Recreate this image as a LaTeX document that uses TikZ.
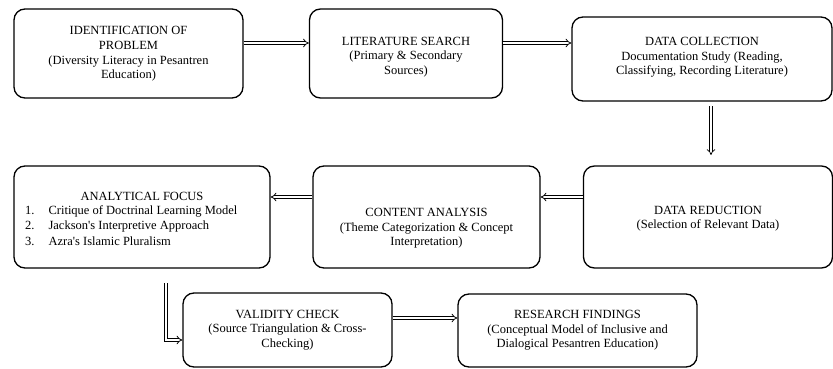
\documentclass[tikz,border=0pt]{standalone}
\usepackage{fontspec}
\setmainfont{Liberation Serif}[Ligatures=TeXOff]
\usetikzlibrary{arrows.meta,calc}
\begin{document}
\begin{tikzpicture}[x=1pt,y=-1pt,
  box/.style={draw,line width=1.3pt,rounded corners=11pt,inner sep=0pt},
  txt/.style={align=center,font=\fontsize{12.5}{14.6}\selectfont,inner sep=0pt},
  arr/.style={double,double distance=2.2pt,line width=0.75pt,-{Implies}}]
\useasboundingbox (0,0) rectangle (833,369);
% row 1
\node[box,minimum width=229pt,minimum height=89pt] (b1) at (128.5,53.5) {};
\node[txt] (t1) at (128.5,54) {IDENTIFICATION OF\\PROBLEM\\(Diversity Literacy in Pesantren\\Education)};
\node[box,minimum width=193pt,minimum height=89pt] (b2) at (406,53.5) {};
\node[txt] (t2) at (406,57) {LITERATURE SEARCH\\(Primary \& Secondary\\Sources)};
\node[box,minimum width=260pt,minimum height=84pt] (b3) at (702,59) {};
\node[txt] (t3) at (702,57.5) {DATA COLLECTION\\Documentation Study (Reading,\\Classifying, Recording Literature)};
% row 2
\node[box,minimum width=256pt,minimum height=102pt] (af) at (142,217) {};
\node[txt] (taf) at (142,196) {ANALYTICAL FOCUS};
\node[txt,anchor=west,align=left] (taf1) at (25,211) {1.\hspace{14pt}Critique of Doctrinal Learning Model};
\node[txt,anchor=west,align=left] (taf2) at (25,226) {2.\hspace{14pt}Jackson's Interpretive Approach};
\node[txt,anchor=west,align=left] (taf3) at (25,241) {3.\hspace{14pt}Azra's Islamic Pluralism};
\node[box,minimum width=227pt,minimum height=102pt] (ca) at (426.5,217) {};
\node[txt] (tca) at (426.5,228.5) {CONTENT ANALYSIS\\(Theme Categorization \& Concept\\Interpretation)};
\node[box,minimum width=249pt,minimum height=102pt] (dr) at (708,217) {};
\node[txt] (tdr) at (708,218.5) {DATA REDUCTION\\(Selection of Relevant Data)};
% row 3
\node[box,minimum width=209pt,minimum height=74pt] (vc) at (287.5,330) {};
\node[txt] (tvc) at (287.5,330) {VALIDITY CHECK\\(Source Triangulation \& Cross-\\Checking)};
\node[box,minimum width=239pt,minimum height=73pt] (rf) at (577.5,330.5) {};
\node[txt] (trf) at (577.5,330.5) {RESEARCH FINDINGS\\(Conceptual Model of Inclusive and\\Dialogical Pesantren Education)};
% connectors
\draw[arr] ([yshift=10.5pt]b1.east) -- ([yshift=10.5pt]b1.east -| b2.west);
\draw[arr] ([yshift=10.5pt]b2.east) -- ([yshift=10.5pt]b2.east -| b3.west);
\coordinate (d1) at (711,106);
\coordinate (d2) at (711,155);
\draw[arr] (d1) -- (d2);
\draw[arr] ([yshift=20pt]dr.west) -- ([yshift=20pt]dr.west -| ca.east);
\draw[arr] ([yshift=20pt]ca.west) -- ([yshift=20pt]ca.west -| af.east);
\coordinate (l1) at (166,283);
\coordinate (l2) at (vc.west |- 0,340);
\draw[arr] (l1) |- (l2);
\draw[arr] ([yshift=12pt]vc.east) -- ([yshift=12pt]vc.east -| rf.west);
\end{tikzpicture}
\end{document}
